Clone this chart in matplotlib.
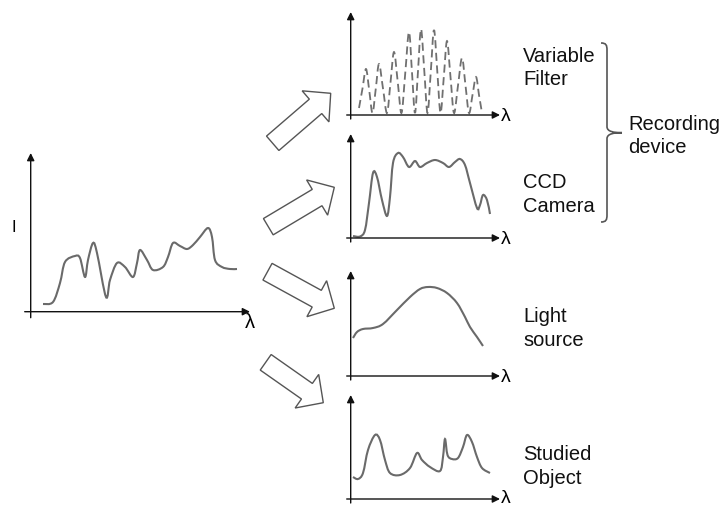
import numpy as np
import matplotlib
matplotlib.use("Agg")
import matplotlib.pyplot as plt
from matplotlib.path import Path
from matplotlib.patches import PathPatch, FancyArrow

# everything is in picture pixels (x right, y down)

# spectrum entering the system (left panel)
main_x = [43, 53, 60, 65, 75, 80, 85, 88, 93, 97, 106, 110, 117, 125, 133, 137, 140,
          147, 153, 163, 168, 173, 180, 187, 193, 200, 208, 212, 215, 222, 230, 237]
main_y = [304, 302, 283, 262, 256, 258, 277, 260, 243, 253, 297, 280, 263, 267, 277,
          263, 250, 260, 270, 267, 257, 243, 246, 249, 245, 237, 228, 237, 260, 267, 269, 269]

# variable filter (dashed): troughs, flanks and peaks
filt_x = [359, 362.5, 366, 369.3, 372.5, 375.8, 379, 383, 387, 390.5, 394, 397.8,
          401.5, 405.3, 409, 412, 415, 418, 421, 424.3, 427.5, 430.8, 434, 437.3,
          440.5, 443.8, 447, 450.5, 454, 458, 462, 465.5, 469, 472.5, 476, 479, 482]
filt_y = [108, 88.5, 69, 91, 113, 88.5, 64, 88.5, 113, 82.5, 52, 82.5,
          113, 72.5, 32, 72.5, 113, 71, 29, 71, 113, 71.5, 30, 71.5,
          113, 77, 41, 77, 113, 85.5, 58, 85.5, 113, 95, 77, 95, 113]

# ccd camera response
ccd_x = [353, 360, 365, 369, 373, 377, 382, 387, 390, 393, 398, 403, 409, 415, 420,
         427, 435, 443, 449, 455, 460, 465, 470, 477, 480, 483, 487, 490]
ccd_y = [236, 236.5, 230, 203, 173, 177, 200, 216, 197, 163, 153, 157, 167, 161, 167,
         163, 160, 163, 167, 162, 159, 165, 183, 208, 205, 195, 200, 214]

# light source
light_x = [353, 357, 363, 373, 383, 397, 410, 420, 428, 437, 447, 457, 465, 470, 477, 483]
light_y = [338, 332, 329, 328, 324, 310, 297, 289, 287, 288, 293, 303, 317, 327, 337, 346]

# studied object
obj_x = [353, 358, 363, 368, 375, 380, 385, 390, 400, 410, 417, 422, 430, 440, 443,
         445, 447.5, 452, 458, 463, 467, 472, 477, 482, 490]
obj_y = [477, 479, 473, 450, 435, 440, 460, 473, 475, 468, 453, 460, 467, 471, 457,
         439, 455, 459, 458, 447, 435, 442, 457, 468, 473]

# axes of the small panels: (y-axis x, x-axis y, y-axis top)
panel_axes = [(350.7, 115, 12), (350.7, 238, 134), (350.7, 376, 271), (350.7, 499, 395)]

# block arrows: tail centre and tip
arrow_tail = [(272.7, 143.3), (268.3, 226.7), (267.5, 271.7), (265.7, 362.3)]
arrow_tip = [(330.7, 93.3), (334.3, 187.3), (334.3, 308.3), (323.3, 402.7)]

labels = [("Variable", 523, 61.7), ("Filter", 523, 85),
          ("CCD", 523, 188.3), ("Camera", 523, 211.7),
          ("Light", 523, 321.7), ("source", 523, 346),
          ("Studied", 523, 460), ("Object", 523, 484),
          ("Recording", 628, 130), ("device", 628, 153.3)]

CURVE = "#6a6a6a"
FONT = "Liberation Sans"


def smooth_path(xs, ys):
    """Catmull-Rom through the read-off points, as cubic Bezier segments."""
    p = np.column_stack([xs, ys]).astype(float)
    p = np.vstack([p[0], p, p[-1]])
    verts = [p[1]]
    codes = [Path.MOVETO]
    for i in range(1, len(p) - 2):
        c1 = p[i] + (p[i + 1] - p[i - 1]) / 6
        c2 = p[i + 1] - (p[i + 2] - p[i]) / 6
        verts += [c1, c2, p[i + 1]]
        codes += [Path.CURVE4] * 3
    return Path(verts, codes)


def draw_axes(ax, x0, y0, ytop, xtip, over=5):
    kw = dict(arrowstyle="-|>", color="#111111", lw=1.0, mutation_scale=11,
              shrinkA=0, shrinkB=0)
    ax.annotate("", xy=(x0, ytop), xytext=(x0, y0 + over), arrowprops=kw)
    ax.annotate("", xy=(xtip, y0), xytext=(x0 - over, y0), arrowprops=kw)


fig = plt.figure(figsize=(7.23, 5.08), dpi=100)
ax = fig.add_axes([0, 0, 1, 1])
ax.set_xlim(0, 723)
ax.set_ylim(508, 0)
ax.axis("off")

# left panel
draw_axes(ax, 30.7, 311.7, 153, 250, over=6)
ax.text(14, 232.3, "I", fontsize=12, family=FONT, ha="center", va="baseline")
ax.text(249.5, 323, "λ", fontsize=14.5, family=FONT, ha="center", va="center")
ax.add_patch(PathPatch(smooth_path(main_x, main_y), fill=False, ec=CURVE, lw=1.5))

# right panels
for x0, y0, ytop in panel_axes:
    draw_axes(ax, x0, y0, ytop, 500, over=4)
    ax.text(506, min(y0 + 1.5, 498.5), "λ", fontsize=14, family=FONT,
            ha="center", va="center")

ax.add_patch(PathPatch(smooth_path(filt_x, filt_y), fill=False, ec="#707070", lw=1.3,
                       ls=(0, (4.5, 2.5))))
for xs, ys in [(ccd_x, ccd_y), (light_x, light_y), (obj_x, obj_y)]:
    ax.add_patch(PathPatch(smooth_path(xs, ys), fill=False, ec=CURVE, lw=1.5))

# block arrows
for (tx, ty), (hx, hy) in zip(arrow_tail, arrow_tip):
    ax.add_patch(FancyArrow(tx, ty, hx - tx, hy - ty, width=19, head_width=41,
                            head_length=20, length_includes_head=True,
                            fc="white", ec="#555555", lw=1.0))

# brace grouping filter + camera
bx, btop, bbot, bmid, bpt = 607, 43, 222, 132.7, 622
brace = Path([(601, btop), (606, btop), (bx, btop + 2), (bx, btop + 7),
              (bx, bmid - 6),
              (bx, bmid - 1), (bpt - 8, bmid), (bpt, bmid),
              (bpt - 8, bmid), (bx, bmid + 1), (bx, bmid + 6),
              (bx, bbot - 7),
              (bx, bbot - 2), (606, bbot), (601, bbot)],
             [Path.MOVETO, Path.CURVE4, Path.CURVE4, Path.CURVE4,
              Path.LINETO,
              Path.CURVE4, Path.CURVE4, Path.CURVE4,
              Path.CURVE4, Path.CURVE4, Path.CURVE4,
              Path.LINETO,
              Path.CURVE4, Path.CURVE4, Path.CURVE4])
ax.add_patch(PathPatch(brace, fill=False, ec="#555555", lw=1.2))

for txt, x, y in labels:
    ax.text(x, y, txt, fontsize=14.5, family=FONT, ha="left", va="baseline",
            color="#111111")

fig.savefig("out.png", dpi=100)
